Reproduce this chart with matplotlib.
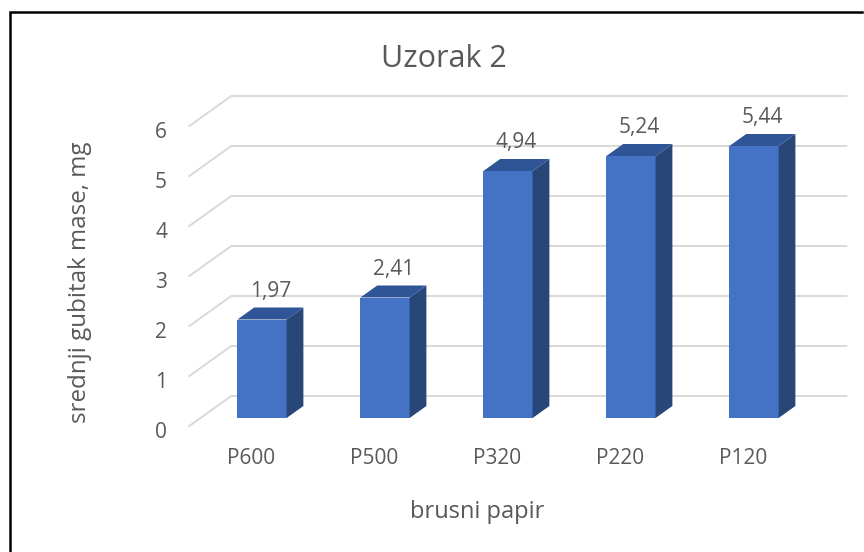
import matplotlib
matplotlib.use("Agg")
import matplotlib.pyplot as plt
from matplotlib.lines import Line2D
from matplotlib.transforms import ScaledTranslation

plt.rcParams['font.family'] = ['Open Sans', 'DejaVu Sans']

categories = ['P600', 'P500', 'P320', 'P220', 'P120']
values = [1.97, 2.41, 4.94, 5.24, 5.44]
value_labels = ['1,97', '2,41', '4,94', '5,24', '5,44']
y_ticks = [0, 1, 2, 3, 4, 5, 6]

GRAY = '#595959'
GRID = '#D9D9D9'
FRONT = '#4472C4'
SIDE = '#284678'
TOP = '#2F5597'

# fake 3D: depth 1 shifts this far in data units
DEPTH_X = 42 / 123
DEPTH_Y = 0.6
BAR_FRONT = 8 / 30
BAR_BACK = 20 / 30
BAR_WIDTH = 0.4

fig = plt.figure(figsize=(8.64, 5.52), dpi=100)
ax = fig.add_axes([189.3 / 864, 126 / 552, 615 / 864, 300 / 552])
ax.set_xlim(-0.5, 4.5)
ax.set_ylim(0, 6)
ax.patch.set_visible(False)
for s in ax.spines.values():
    s.set_visible(False)

# gridlines: side wall diagonal + back wall
for t in y_ticks:
    ax.plot([-0.5, -0.5 + DEPTH_X, 4.5 + DEPTH_X], [t, t + DEPTH_Y, t + DEPTH_Y],
            color=GRID, lw=1.4, clip_on=False, zorder=1, solid_joinstyle='miter')

fx = BAR_FRONT * DEPTH_X
fy = BAR_FRONT * DEPTH_Y
bx = (BAR_BACK - BAR_FRONT) * DEPTH_X
by = (BAR_BACK - BAR_FRONT) * DEPTH_Y

for i, v in enumerate(values):
    left = i + fx - BAR_WIDTH / 2
    right = i + fx + BAR_WIDTH / 2
    top = v + fy
    ax.bar(i + fx, v, BAR_WIDTH, bottom=fy, color=FRONT, zorder=3, clip_on=False)
    ax.fill([right, right + bx, right + bx, right], [fy, fy + by, top + by, top],
            color=SIDE, lw=0, zorder=3, clip_on=False)
    ax.fill([left, left + bx, right + bx, right], [top, top + by, top + by, top],
            color=TOP, lw=0, zorder=3, clip_on=False)
    ax.annotate(value_labels[i], (i + fx + bx / 2, top + by), xytext=(0, 4.3),
                textcoords='offset points', ha='center', va='bottom',
                fontsize=15, color=GRAY, zorder=4)

ax.set_xticks(range(len(categories)))
ax.set_xticklabels(categories)
ax.set_yticks(y_ticks)
ax.tick_params(axis='x', length=0, pad=16, labelsize=15, labelcolor=GRAY)
ax.tick_params(axis='y', length=0, pad=16, labelsize=15, labelcolor=GRAY)
# y labels sit a bit below their gridline ends in the original
down = ScaledTranslation(0, -4 / 100, fig.dpi_scale_trans)
for lab in ax.get_yticklabels():
    lab.set_verticalalignment('center_baseline')
    lab.set_transform(lab.get_transform() + down)

ax.set_xlabel('brusni papir', fontsize=17, color=GRAY)
ax.xaxis.set_label_coords((477 - 189.3) / 615, (426 - 512) / 300)
ax.xaxis.label.set_va('center')
ax.set_ylabel('srednji gubitak mase, mg', fontsize=17.4, color=GRAY)
ax.yaxis.set_label_coords((80 - 189.3) / 615, (426 - 282.5) / 300)
ax.yaxis.label.set_va('center')

fig.text(444 / 864, 1 - 59 / 552, 'Uzorak 2', fontsize=22, color=GRAY, ha='center', va='center')

# black frame of the pasted chart, only top and left show
fig.add_artist(Line2D([9.5 / 864, 9.5 / 864, 862 / 864], [0, 1 - 12 / 552, 1 - 12 / 552],
                      color='black', lw=1.8, solid_joinstyle='miter'))

fig.savefig('out.png', dpi=100)
